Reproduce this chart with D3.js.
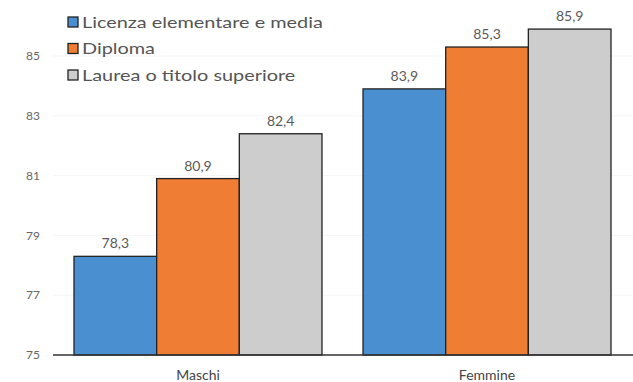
<!DOCTYPE html>
<html>
<head>
<meta charset="utf-8">
<script src="https://cdn.jsdelivr.net/npm/d3@7"></script>
<style>
  html, body { margin: 0; padding: 0; background: #fff; }
  svg { display: block; font-family: "Lato", "Open Sans", sans-serif; }
</style>
</head>
<body>
<svg id="chart" width="633" height="382"></svg>
<script>
// Categories, series and values
const categories = ["Maschi", "Femmine"];
const series = ["Licenza elementare e media", "Diploma", "Laurea o titolo superiore"];
const valuesLicenza = [78.3, 83.9];
const valuesDiploma = [80.9, 85.3];
const valuesLaurea = [82.4, 85.9];
const yTicks = [75, 77, 79, 81, 83, 85];
const colors = ["#4a8fd0", "#ef7d33", "#cdcdcd"];

const seriesValues = [valuesLicenza, valuesDiploma, valuesLaurea];
const rows = categories.map((c, i) => ({
  category: c,
  values: series.map((s, j) => ({ series: s, index: j, value: seriesValues[j][i] }))
}));

const svg = d3.select("#chart");
const fmt = v => d3.format(".1f")(v).replace(".", ",");

const y = d3.scaleLinear().domain([75, 85]).range([355, 56]);
const x0 = d3.scaleBand().domain(categories).range([74, 611]).paddingInner(0.142).paddingOuter(0);
const x1 = d3.scaleBand().domain(series).range([0, x0.bandwidth()]).padding(0);

// very faint horizontal guides
svg.append("g").selectAll("line").data(yTicks.slice(1)).join("line")
  .attr("x1", 53).attr("x2", 633)
  .attr("y1", d => y(d)).attr("y2", d => y(d))
  .attr("stroke", "#f5f5f5").attr("stroke-width", 1);

// y tick labels
svg.append("g").selectAll("text").data(yTicks).join("text")
  .attr("x", 40).attr("y", d => y(d)).attr("dy", "0.35em")
  .attr("text-anchor", "end")
  .attr("font-size", 12).attr("fill", "#666")
  .text(d => d);

// bars
const groups = svg.append("g").selectAll("g").data(rows).join("g")
  .attr("transform", d => `translate(${x0(d.category)},0)`);

groups.selectAll("rect").data(d => d.values).join("rect")
  .attr("x", d => x1(d.series))
  .attr("y", d => y(d.value))
  .attr("width", x1.bandwidth())
  .attr("height", d => y(75) - y(d.value))
  .attr("fill", d => colors[d.index])
  .attr("stroke", "#222")
  .attr("stroke-width", 1.3);

groups.selectAll("text").data(d => d.values).join("text")
  .attr("x", d => x1(d.series) + x1.bandwidth() / 2)
  .attr("y", d => y(d.value) - 8)
  .attr("text-anchor", "middle")
  .attr("font-size", 14).attr("fill", "#5a5a5a")
  .text(d => fmt(d.value));

// baseline
svg.append("line")
  .attr("x1", 53).attr("x2", 633)
  .attr("y1", y(75)).attr("y2", y(75))
  .attr("stroke", "#333").attr("stroke-width", 1.3);

// category labels
svg.append("g").selectAll("text").data(categories).join("text")
  .attr("x", d => x0(d) + x0.bandwidth() / 2)
  .attr("y", 380)
  .attr("text-anchor", "middle")
  .attr("font-size", 14).attr("fill", "#444")
  .text(d => d);

// legend; the labels are stretched so the longest one spans 241px
const legend = svg.append("g").attr("transform", "translate(68,22)");
const item = legend.selectAll("g").data(series).join("g")
  .attr("transform", (d, i) => `translate(0,${i * 26.5})`);
item.append("rect")
  .attr("x", 0).attr("y", -5).attr("width", 10).attr("height", 10)
  .attr("fill", (d, i) => colors[i])
  .attr("stroke", "#222").attr("stroke-width", 1.3);
const labels = item.append("text")
  .attr("dy", "0.36em")
  .attr("font-size", 15.5).attr("fill", "#555")
  .text(d => d);
const longest = d3.max(labels.nodes(), n => n.getComputedTextLength());
const stretch = 241 / longest;
labels.attr("transform", `translate(14,0) scale(${stretch},1)`);
</script>
</body>
</html>
